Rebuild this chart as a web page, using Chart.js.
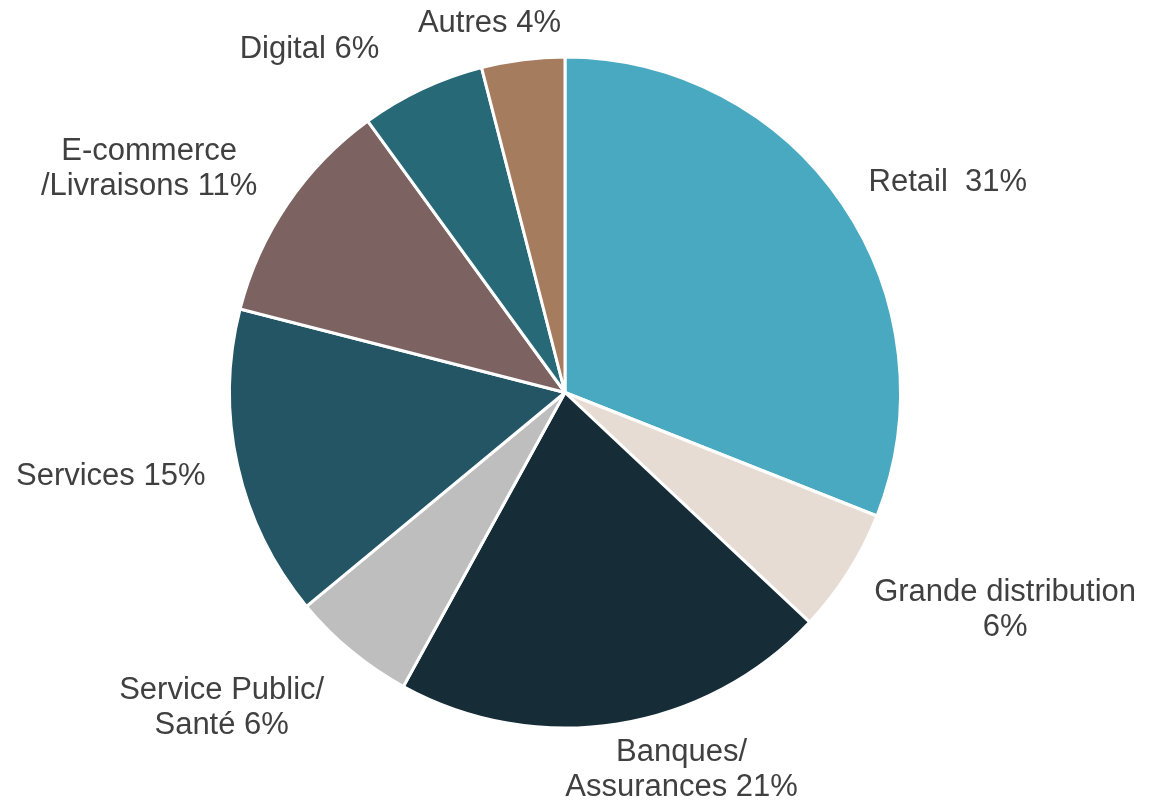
<!DOCTYPE html>
<html>
<head>
<meta charset="utf-8">
<script src="https://cdn.jsdelivr.net/npm/chart.js@4/dist/chart.umd.min.js"></script>
<style>
  html, body { margin: 0; padding: 0; background: #fff; }
  #wrap { width: 1152px; height: 803px; position: relative; }
</style>
</head>
<body>
<div id="wrap"><canvas id="pie"></canvas></div>
<script>
// data
const categories = ["Retail", "Grande distribution", "Banques/Assurances", "Service Public/Santé",
                    "Services", "E-commerce/Livraisons", "Digital", "Autres"];
const shares = [31, 6, 21, 6, 15, 11, 6, 4];
// label text, split on lines; the share is appended to the last line
const labelLines = [["Retail "], ["Grande distribution", ""], ["Banques/", "Assurances"],
                    ["Service Public/", "Santé"], ["Services"], ["E-commerce", "/Livraisons"],
                    ["Digital"], ["Autres"]];
const colors = ["#48a9c0", "#e6dcd3", "#162c37", "#bebebe", "#245565", "#7d6262", "#286977", "#a67c5f"];

// nudges for the outside labels (from the point at 1.25 x radius on the slice middle)
const labelNudge = [[36, 26], [86, -7], [51, -37], [-76, -8], [-45, -8], [-69, 12], [-77, 36], [-23, 47]];

const outsideLabels = {
  id: "outsideLabels",
  afterDatasetsDraw(chart) {
    const ctx = chart.ctx;
    const meta = chart.getDatasetMeta(0);
    ctx.save();
    ctx.font = "31px 'Liberation Sans', Arial, sans-serif";
    ctx.fillStyle = "#404040";
    ctx.textAlign = "center";
    ctx.textBaseline = "middle";
    const lineH = 35;
    meta.data.forEach((arc, i) => {
      const mid = (arc.startAngle + arc.endAngle) / 2;
      const r = arc.outerRadius * 1.25;
      const cx = arc.x + Math.cos(mid) * r + labelNudge[i][0];
      const cy = arc.y + Math.sin(mid) * r + labelNudge[i][1];
      const lines = labelLines[i].slice();
      const last = lines.length - 1;
      lines[last] = (lines[last] ? lines[last] + " " : "") + shares[i] + "%";
      const top = cy - (lines.length - 1) * lineH / 2;
      lines.forEach((t, k) => ctx.fillText(t, cx, top + k * lineH));
    });
    ctx.restore();
  }
};

new Chart(document.getElementById("pie"), {
  type: "pie",
  data: {
    labels: categories,
    datasets: [{
      data: shares,
      backgroundColor: colors,
      borderColor: "#ffffff",
      borderWidth: 3
    }]
  },
  options: {
    responsive: true,
    maintainAspectRatio: false,
    animation: false,
    layout: { padding: { top: 55, bottom: 73, left: 228, right: 250 } },
    plugins: { legend: { display: false }, tooltip: { enabled: false } }
  },
  plugins: [outsideLabels]
});
</script>
</body>
</html>
